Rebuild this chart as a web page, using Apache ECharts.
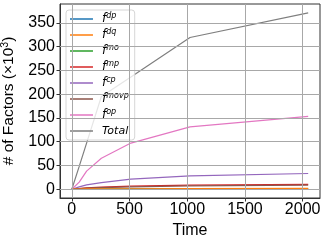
<!DOCTYPE html>
<html><head><meta charset="utf-8">
<script src="https://cdn.jsdelivr.net/npm/echarts@6/dist/echarts.min.js"></script>
<style>html,body{margin:0;padding:0;background:#fff}#c{width:327px;height:241px}</style>
</head><body><div id="c"></div>
<script>
const times = [0, 64, 128, 256, 512, 1024, 2048];
const fdp   = [0, 0.05, 0.1, 0.15, 0.25, 0.4, 0.5];
const fdq   = [0, 0.3, 0.5, 0.7, 1.0, 1.3, 1.6];
const fmo   = [0, 0.02, 0.05, 0.08, 0.12, 0.18, 0.25];
const fmp   = [0, 1.5, 3, 4.5, 6.5, 8.5, 10];
const fcp   = [0, 5, 9, 14, 21, 28, 33];
const fmovp = [0, 1.2, 2.2, 3.5, 5, 6.8, 8.5];
const fop   = [0, 15, 38, 65, 97, 131, 153];
const total = [0, 48, 97, 195, 236, 319, 371];
const xTicks = [0, 500, 1000, 1500, 2000];
const yTicks = [0, 50, 100, 150, 200, 250, 300, 350];
const names = ['dp', 'dq', 'mo', 'mp', 'cp', 'movp', 'op', 'Total'];
const values = [fdp, fdq, fmo, fmp, fcp, fmovp, fop, total];
const colors = ['#1f77b4', '#ff7f0e', '#2ca02c', '#d62728', '#9467bd', '#8c564b', '#e377c2', '#7f7f7f'];
const zs = [2, 4, 2, 3, 3, 3, 3, 3];

const font = "'Liberation Sans', Arial, sans-serif";
const mathFont = "'DejaVu Sans', sans-serif";
const lineIcon = 'path://M0,0h0.01v0.01h-0.01zM0,6.3h23v1.4h-23zM0,14h0.01v0.01h-0.01z';

const series = names.map((n, i) => ({
  name: n,
  type: 'line',
  symbol: 'none',
  z: zs[i],
  data: times.map((t, j) => [t, values[i][j]]),
  lineStyle: { color: colors[i], width: 1.2 },
  itemStyle: { color: colors[i] },
  emphasis: { disabled: true },
  animation: false
}));

series.unshift({
  type: 'line',
  data: [],
  z: 1,
  silent: true,
  markLine: {
    silent: true,
    symbol: 'none',
    label: { show: false },
    animation: false,
    lineStyle: { color: '#a8a8a8', width: 1, type: 'solid' },
    emphasis: { disabled: true },
    data: xTicks.map(v => ({ xAxis: v })).concat(yTicks.map(v => ({ yAxis: v })))
  }
});

const chart = echarts.init(document.getElementById('c'), null, { renderer: 'canvas' });
chart.setOption({
  animation: false,
  backgroundColor: '#fff',
  grid: {
    left: 60, right: 7, top: 4, bottom: 43,
    containLabel: false, outerBoundsMode: 'none',
    show: true, borderColor: '#333', borderWidth: 1, backgroundColor: 'transparent'
  },
  legend: {
    orient: 'vertical',
    left: 66, top: 10,
    data: names.map((n, i) => ({ name: n, icon: lineIcon, itemStyle: { color: colors[i] } })),
    itemWidth: 23, itemHeight: 14, itemGap: 2,
    padding: [2, 6, 2, 4],
    backgroundColor: 'rgba(255,255,255,0.8)',
    borderColor: '#d6d6d6', borderWidth: 1, borderRadius: 3,
    selectedMode: false,
    formatter: n => n === 'Total' ? '{t|Total}' : '{f|f}{s|' + n + '}',
    textStyle: {
      padding: [0, 0, 0, 4],
      rich: {
        f: { fontFamily: mathFont, fontStyle: 'italic', fontSize: 12, lineHeight: 14, color: '#000' },
        s: { fontFamily: mathFont, fontStyle: 'italic', fontSize: 8, lineHeight: 9, verticalAlign: 'top', color: '#000' },
        t: { fontFamily: mathFont, fontStyle: 'italic', fontSize: 11, lineHeight: 14, color: '#000' }
      }
    }
  },
  xAxis: {
    type: 'value',
    min: -102.4, max: 2150.4,
    name: 'Time', nameLocation: 'middle', nameGap: 11,
    nameTextStyle: { fontFamily: font, fontSize: 16, color: '#000', verticalAlign: 'top' },
    axisLine: { show: true, onZero: false, lineStyle: { color: '#333', width: 1 } },
    axisTick: { show: true, length: 3.5, customValues: xTicks, lineStyle: { color: '#333' } },
    axisLabel: { customValues: xTicks, formatter: v => String(v), fontFamily: font, fontSize: 16, color: '#000', margin: 4 },
    splitLine: { show: false }
  },
  yAxis: {
    type: 'value',
    min: -18.5, max: 389.5,
    name: '# of Factors (×10{sup|3})', nameLocation: 'middle', nameGap: 33,
    nameTextStyle: {
      fontFamily: font, fontSize: 15.5, color: '#000', lineHeight: 18,
      rich: { sup: { fontFamily: font, fontSize: 10.5, lineHeight: 10, verticalAlign: 'top', color: '#000' } }
    },
    axisLine: { show: true, onZero: false, lineStyle: { color: '#333', width: 1 } },
    axisTick: { show: true, length: 3.5, customValues: yTicks, lineStyle: { color: '#333' } },
    axisLabel: { customValues: yTicks, formatter: v => String(v), fontFamily: font, fontSize: 16, color: '#000', margin: 5 },
    splitLine: { show: false }
  },
  series: series
});
</script>
</body></html>
